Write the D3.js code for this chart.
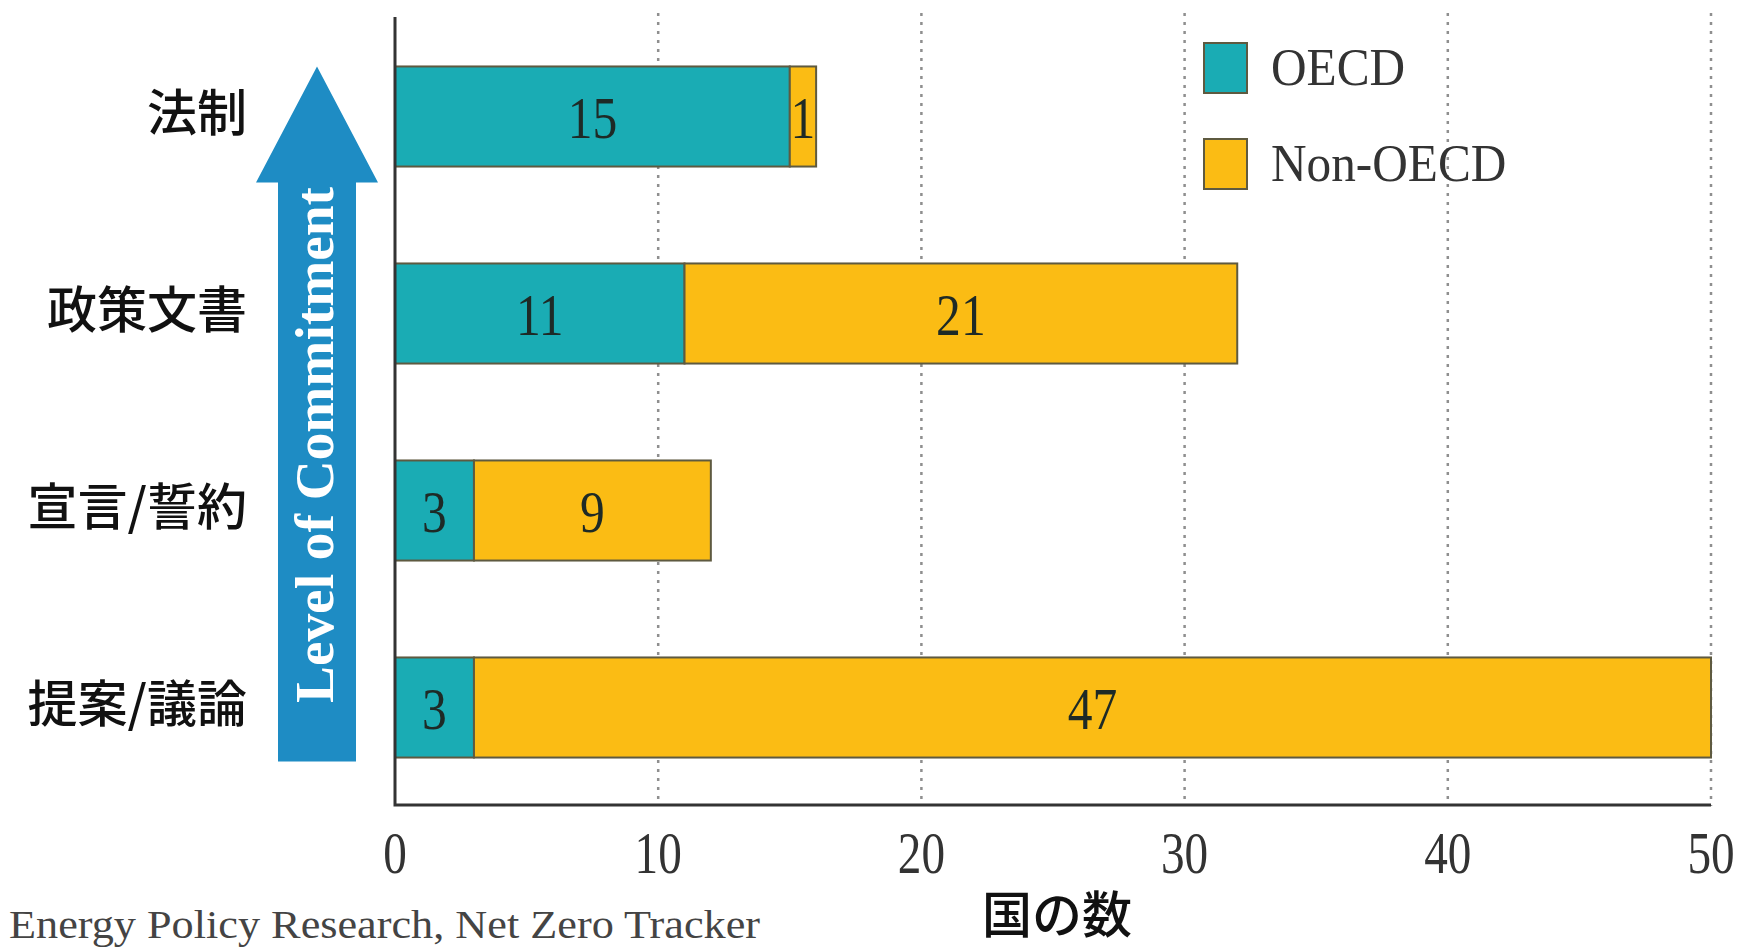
<!DOCTYPE html>
<html>
<head>
<meta charset="utf-8">
<script src="https://cdn.jsdelivr.net/npm/d3@7"></script>
<style>
	body { margin: 0; background: #fff; }
	svg { display: block; }
</style>
</head>
<body>
<div id="chart"></div>
<script>
// The data
const categories = ["法制", "政策文書", "宣言/誓約", "提案/議論"];
const seriesNames = ["OECD", "Non-OECD"];
const oecdValues = [15, 11, 3, 3];
const nonOecdValues = [1, 21, 9, 47];
const xTicks = [0, 10, 20, 30, 40, 50];
const xTitle = "国の数";
const arrowLabel = "Level of Commitment";
const sourceText = "Energy Policy Research, Net Zero Tracker";

// Set up dimensions
const WIDTH = 1742;
const HEIGHT = 951;
const X0 = 395;
const X1 = 1711;
const Y0 = 18;
const Y1 = 806;

const COLORS = ["#1aacb4", "#fbbc14"];
const SERIF = "'Liberation Serif', 'DejaVu Serif', serif";
const CJK = "'Noto Sans CJK JP', 'Noto Sans CJK SC', sans-serif";

const svg = d3
	.select("#chart")
	.append("svg")
	.attr("width", WIDTH)
	.attr("height", HEIGHT);

// Scales
const x = d3.scaleLinear().domain([0, 50]).range([X0, X1]);
const y = d3
	.scaleBand()
	.domain(categories)
	.range([Y0, Y1])
	.paddingInner(0.492)
	.paddingOuter(0.246);

// Stacked data
const table = categories.map((c, i) => ({ cat: c, OECD: oecdValues[i], "Non-OECD": nonOecdValues[i] }));
const stacked = d3.stack().keys(seriesNames)(table);

// Grid lines
svg.append("g")
	.selectAll("line")
	.data(xTicks.filter((t) => t > 0))
	.enter()
	.append("line")
	.attr("x1", (d) => x(d))
	.attr("x2", (d) => x(d))
	.attr("y1", 13)
	.attr("y2", Y1)
	.attr("stroke", "#8f8f8f")
	.attr("stroke-width", 2.5)
	.attr("stroke-dasharray", "3,6");

// Arrow on the left
const arrowTop = y(categories[0]);
const arrowBottom = y(categories[categories.length - 1]) + y.bandwidth() + 4;
const cx = 317;
svg.append("path")
	.attr("d", `M${cx},${arrowTop} L${cx + 61},${arrowTop + 116} L${cx + 39},${arrowTop + 116} L${cx + 39},${arrowBottom} L${cx - 39},${arrowBottom} L${cx - 39},${arrowTop + 116} L${cx - 61},${arrowTop + 116} Z`)
	.attr("fill", "#1e8cc4");

svg.append("text")
	.attr("transform", `translate(${cx + 16},${(arrowTop + arrowBottom) / 2 + 31}) rotate(-90)`)
	.attr("text-anchor", "middle")
	.attr("font-family", SERIF)
	.attr("font-weight", "bold")
	.attr("font-size", 55)
	.attr("fill", "#fff")
	.attr("textLength", 516)
	.attr("lengthAdjust", "spacingAndGlyphs")
	.text(arrowLabel);

// Bars
const layer = svg
	.selectAll("g.layer")
	.data(stacked)
	.enter()
	.append("g")
	.attr("class", "layer")
	.attr("fill", (d, i) => COLORS[i]);

layer.selectAll("rect")
	.data((d) => d)
	.enter()
	.append("rect")
	.attr("x", (d) => x(d[0]))
	.attr("y", (d) => y(d.data.cat))
	.attr("width", (d) => x(d[1]) - x(d[0]))
	.attr("height", y.bandwidth())
	.attr("stroke", "#5e5a40")
	.attr("stroke-width", 2);

// Value labels inside the bars
layer.selectAll("text")
	.data((d) => d)
	.enter()
	.append("text")
	.attr("transform", (d) => `translate(${(x(d[0]) + x(d[1])) / 2},${y(d.data.cat) + y.bandwidth() / 2 + 21}) scale(0.84,1)`)
	.attr("text-anchor", "middle")
	.attr("font-family", SERIF)
	.attr("font-size", 59)
	.attr("fill", "#1e2a26")
	.text((d) => d[1] - d[0]);

// Axis lines
svg.append("path")
	.attr("d", `M${X0},17 V${Y1 - 1} H${X1}`)
	.attr("fill", "none")
	.attr("stroke", "#333")
	.attr("stroke-width", 3);

// Tick labels
svg.append("g")
	.selectAll("text")
	.data(xTicks)
	.enter()
	.append("text")
	.attr("transform", (d) => `translate(${x(d)},873) scale(0.8,1)`)
	.attr("text-anchor", "middle")
	.attr("font-family", SERIF)
	.attr("font-size", 59)
	.attr("fill", "#333")
	.text((d) => d);

// Category labels
svg.append("g")
	.selectAll("text")
	.data(categories)
	.enter()
	.append("text")
	.attr("x", 247)
	.attr("y", (d) => y(d) + y.bandwidth() / 2 - 4)
	.attr("dy", "0.36em")
	.attr("text-anchor", "end")
	.attr("font-family", CJK)
	.attr("font-weight", 500)
	.attr("font-size", 50)
	.attr("fill", "#111")
	.text((d) => d);

// X axis title
svg.append("text")
	.attr("x", x(25) + 4)
	.attr("y", 933)
	.attr("text-anchor", "middle")
	.attr("font-family", CJK)
	.attr("font-weight", 500)
	.attr("font-size", 50)
	.attr("fill", "#111")
	.text(xTitle);

// Source
svg.append("text")
	.attr("x", 9)
	.attr("y", 938)
	.attr("font-family", SERIF)
	.attr("font-size", 40)
	.attr("fill", "#444")
	.attr("textLength", 751)
	.attr("lengthAdjust", "spacingAndGlyphs")
	.text(sourceText);

// Legend
const legend = svg
	.append("g")
	.attr("transform", "translate(1204,43)");

const legendItems = legend
	.selectAll("g")
	.data(seriesNames)
	.enter()
	.append("g")
	.attr("transform", (d, i) => `translate(0,${i * 96})`);

legendItems
	.append("rect")
	.attr("width", 43)
	.attr("height", 50)
	.attr("fill", (d, i) => COLORS[i])
	.attr("stroke", "#5e5a40")
	.attr("stroke-width", 2);

legendItems
	.append("text")
	.attr("transform", "translate(67,42) scale(0.93,1)")
	.attr("font-family", SERIF)
	.attr("font-size", 53)
	.attr("fill", "#333")
	.text((d) => d);
</script>
</body>
</html>
